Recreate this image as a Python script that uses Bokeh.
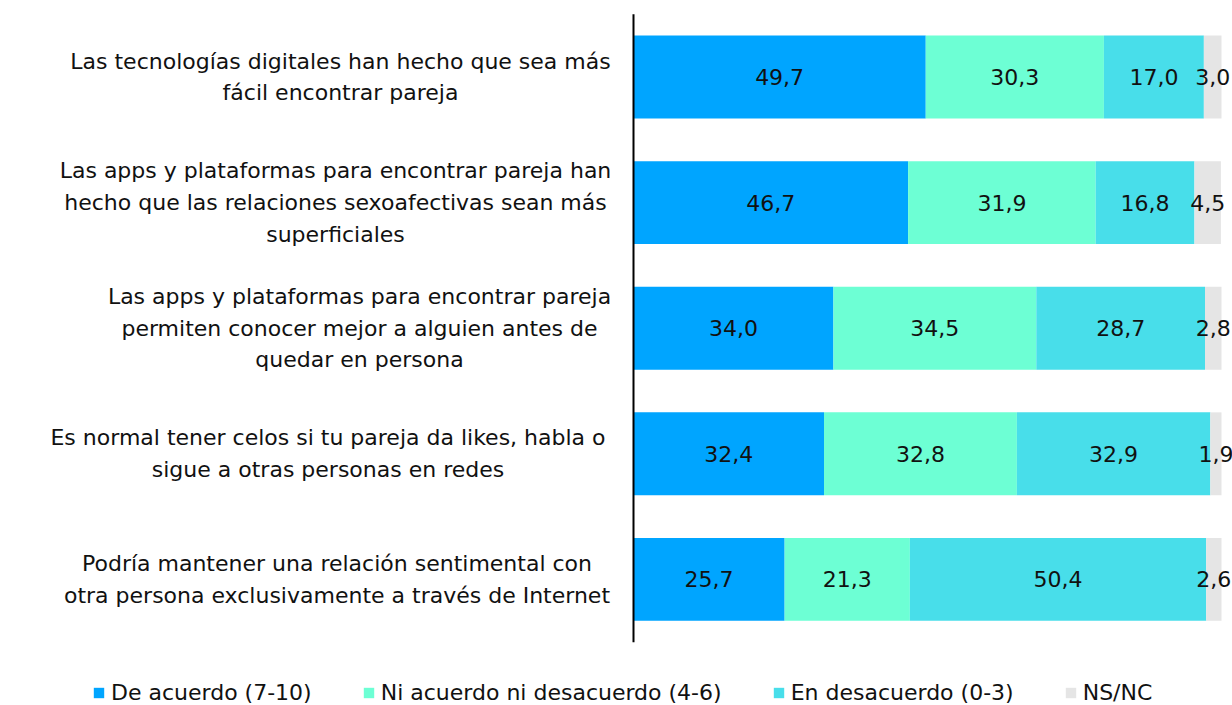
import numpy as np
from bokeh.plotting import figure
from bokeh.models import Range1d, ColumnDataSource, Legend, LegendItem
from bokeh.core.properties import value
from bokeh.embed import file_html
from bokeh.resources import INLINE

statements = [
    "Las tecnologías digitales han hecho que sea más\nfácil encontrar pareja",
    "Las apps y plataformas para encontrar pareja han\nhecho que las relaciones sexoafectivas sean más\nsuperficiales",
    "Las apps y plataformas para encontrar pareja\npermiten conocer mejor a alguien antes de\nquedar en persona",
    "Es normal tener celos si tu pareja da likes, habla o\nsigue a otras personas en redes",
    "Podría mantener una relación sentimental con\notra persona exclusivamente a través de Internet",
]
series_names = ["De acuerdo (7-10)", "Ni acuerdo ni desacuerdo (4-6)", "En desacuerdo (0-3)", "NS/NC"]
de_acuerdo = [49.7, 46.7, 34.0, 32.4, 25.7]
ni_acuerdo = [30.3, 31.9, 34.5, 32.8, 21.3]
en_desacuerdo = [17.0, 16.8, 28.7, 32.9, 50.4]
nsnc = [3.0, 4.5, 2.8, 1.9, 2.6]

colors = ["#00A5FF", "#6DFFD4", "#48DEEA", "#E5E5E5"]
FONT = "DejaVu Sans"
FS = "22px"

# layout (pixel-derived ranges)
PX_PER_UNIT = 5.88
X0_PX = 633.0  # x=0 position inside the figure
FIG_W = 1232
FIG_H = 705
x_start = -X0_PX / PX_PER_UNIT
x_end = (FIG_W - X0_PX) / PX_PER_UNIT
ROW_PX = 125.6
first_center_px = 76.5
y_top = -first_center_px / ROW_PX
y_bottom = (FIG_H - first_center_px) / ROW_PX

# horizontal centers of statement blocks (in figure px)
label_centers_px = [340.0, 335.0, 359.0, 327.5, 336.5]

ypos = list(range(len(statements)))
data = dict(y=ypos)
keys = ["s0", "s1", "s2", "s3"]
for k, vals in zip(keys, [de_acuerdo, ni_acuerdo, en_desacuerdo, nsnc]):
    data[k] = vals
src = ColumnDataSource(data)

p = figure(width=FIG_W, height=FIG_H, output_backend="svg", toolbar_location=None,
           x_range=Range1d(x_start, x_end), y_range=Range1d(y_bottom, y_top),
           min_border=0, min_border_left=0, min_border_right=0, min_border_top=0, min_border_bottom=0)
p.outline_line_color = None
p.xgrid.visible = False
p.ygrid.visible = False
p.xaxis.visible = False
p.yaxis.visible = False
p.background_fill_color = "white"
p.border_fill_color = "white"

renderers = p.hbar_stack(keys, y="y", height=0.66, color=colors, source=src, line_color=None)

# value labels
arr = np.array([de_acuerdo, ni_acuerdo, en_desacuerdo, nsnc]).T
cum = np.cumsum(arr, axis=1)
mids = cum - arr / 2
lx, ly, lt = [], [], []
for i in range(arr.shape[0]):
    for j in range(arr.shape[1]):
        lx.append(mids[i, j])
        ly.append(ypos[i])
        lt.append(f"{arr[i, j]:.1f}".replace(".", ","))
p.text(x=lx, y=ly, text=lt, text_align="center", text_baseline="middle",
       text_font=value(FONT), text_font_size=FS, text_color="#111111")

# statement labels
cx = [(c - X0_PX) / PX_PER_UNIT for c in label_centers_px]
p.text(x=cx, y=ypos, text=statements, text_align="center", text_baseline="middle",
       text_font=value(FONT), text_font_size=FS, text_color="#111111", text_line_height=1.27)

# axis line
p.segment(x0=[0], y0=[-0.5], x1=[0], y1=[len(statements) - 0.5], line_color="black", line_width=2)

legend = Legend(items=[LegendItem(label=n, renderers=[r]) for n, r in zip(series_names, renderers)],
                orientation="horizontal", location=(92, 0))
legend.border_line_color = None
legend.background_fill_alpha = 0
legend.padding = 0
legend.margin = 0
legend.spacing = 50
legend.glyph_width = 13
legend.glyph_height = 13
legend.label_standoff = 6
legend.label_text_font = FONT
legend.label_text_font_size = FS
legend.label_text_color = "#111111"
p.add_layout(legend, "center")

open("out.html", "w").write(file_html(p, INLINE))
